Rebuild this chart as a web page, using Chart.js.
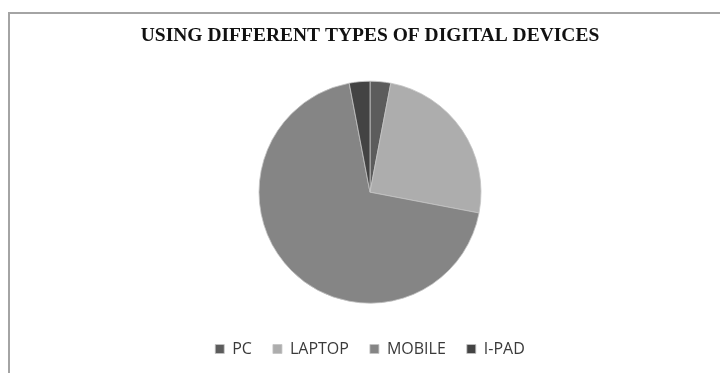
<!DOCTYPE html>
<html lang="en">
<head>
    <meta charset="UTF-8">
    <title>Digital Devices</title>
    <script src="https://cdn.jsdelivr.net/npm/chart.js"></script>
    <style>
        body { margin: 0; background: #fff; overflow: hidden; }
        #frame {
            position: absolute; left: 8px; top: 12px;
            width: 800px; height: 400px;
            border-left: 2px solid #a4a4a4; border-top: 2px solid #a4a4a4;
        }
        #wrap { position: absolute; left: 0; top: 0; width: 720px; height: 373px; }
    </style>
</head>
<body>
    <div id="frame"></div>
    <div id="wrap"><canvas id="deviceChart" width="720" height="373"></canvas></div>

    <script>
        // Share of each device type (percent)
        var devices = ['PC', 'LAPTOP', 'MOBILE', 'I-PAD'];
        var shares = [3, 25, 69, 3];
        var sliceColors = ['#5c5c5c', '#adadad', '#858585', '#434343'];

        var ctx = document.getElementById('deviceChart').getContext('2d');
        var myChart = new Chart(ctx, {
            type: 'pie',
            data: {
                labels: devices,
                datasets: [{
                    data: shares,
                    backgroundColor: sliceColors,
                    borderColor: '#c4c4c4',
                    borderWidth: 0.8,
                    radius: 111
                }]
            },
            options: {
                responsive: false,
                animation: false,
                layout: { padding: { left: 20, right: 0, top: 0, bottom: 6 } },
                plugins: {
                    title: {
                        display: true,
                        text: 'USING DIFFERENT TYPES OF DIGITAL DEVICES',
                        color: '#111',
                        font: { family: '"Liberation Serif", "Times New Roman", serif', size: 19.5, weight: 'bold' },
                        padding: { top: 24, bottom: 17 }
                    },
                    legend: {
                        position: 'bottom',
                        labels: {
                            color: '#3a3a3a',
                            font: { family: '"Open Sans", sans-serif', size: 16 },
                            boxWidth: 9,
                            boxHeight: 9,
                            padding: 21
                        }
                    },
                    tooltip: { enabled: false }
                }
            }
        });
    </script>
</body>
</html>
